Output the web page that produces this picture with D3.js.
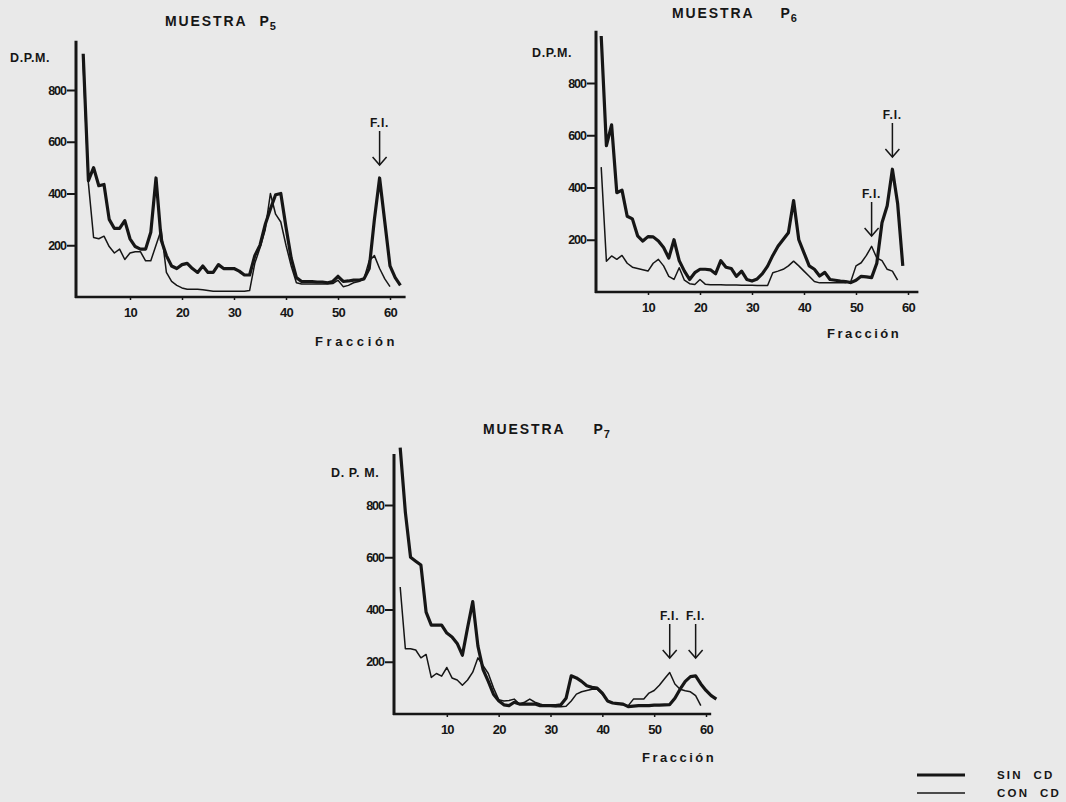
<!DOCTYPE html>
<html>
<head>
<meta charset="utf-8">
<script src="https://cdn.jsdelivr.net/npm/d3@7"></script>
<style>
  body { margin: 0; background: #e9e9e9; }
  svg { display: block; }
  text { font-family: "Liberation Sans", Arial, sans-serif; font-weight: bold; fill: #161616; }
</style>
</head>
<body>
<svg id="chart" width="1066" height="802"></svg>
<script>
// D.P.M. per fraction (fraction = index + 1)
const p5Sin = [940, 450, 500, 430, 435, 300, 265, 265, 295, 225, 195, 185, 185, 250, 460, 220, 160, 120, 110, 125,
  130, 110, 95, 120, 95, 95, 125, 110, 110, 110, 100, 85, 85, 160, 200, 280, 340, 395, 400, 270,
  150, 75, 60, 60, 60, 58, 58, 55, 60, 80, 60, 62, 65, 65, 70, 110, 300, 460, 290, 120, 75, 45];
const p5Con = [900, 440, 230, 225, 235, 195, 170, 185, 145, 170, 175, 175, 140, 140, 200, 260, 95, 60, 45, 35,
  30, 30, 30, 28, 25, 22, 22, 22, 22, 22, 22, 22, 25, 130, 190, 260, 400, 320, 290, 200,
  120, 55, 50, 50, 50, 50, 50, 50, 52, 65, 40, 45, 55, 60, 70, 140, 160, 110, 70, 40];

const p6Sin = [980, 560, 640, 380, 390, 290, 280, 215, 195, 212, 211, 195, 170, 130, 200, 120, 80, 48, 74, 87,
  87, 85, 70, 120, 95, 90, 60, 80, 48, 42, 50, 70, 99, 140, 175, 201, 227, 350, 200, 150,
  100, 87, 61, 75, 48, 45, 42, 40, 36, 45, 60, 58, 55, 110, 265, 330, 470, 340, 100];
const p6Con = [478, 118, 138, 125, 140, 110, 95, 90, 85, 80, 110, 125, 100, 60, 48, 93, 45, 32, 29, 48,
  30, 28, 28, 28, 27, 27, 27, 26, 26, 26, 25, 25, 25, 74, 80, 87, 100, 118, 100, 80,
  60, 40, 35, 35, 35, 35, 35, 35, 40, 100, 112, 140, 175, 130, 120, 87, 80, 45];

const p7Sin = [1020, 772, 600, 585, 570, 390, 340, 340, 340, 310, 295, 270, 225, 330, 430, 260, 170, 125, 76, 51,
  35, 32, 45, 38, 38, 38, 38, 32, 32, 32, 32, 35, 60, 146, 138, 125, 108, 102, 99, 80,
  50, 42, 40, 38, 28, 30, 32, 32, 32, 34, 34, 35, 36, 60, 95, 125, 143, 146, 115, 90, 70, 57];
const p7Con = [486, 250, 250, 245, 215, 228, 140, 155, 145, 178, 138, 130, 110, 130, 160, 215, 185, 155, 100, 55,
  50, 52, 57, 38, 45, 57, 45, 38, 32, 30, 28, 28, 30, 50, 76, 85, 90, 95, 95, 76,
  50, 42, 38, 35, 32, 57, 57, 57, 80, 90, 110, 135, 159, 115, 95, 89, 85, 70, 32];

const yTicks = [200, 400, 600, 800];
const xTicks = [10, 20, 30, 40, 50, 60];
const p5Fi = [58];
const p6Fi = [53, 57];
const p7Fi = [53, 58];

const svg = d3.select("#chart");
const ink = "#161616";

function toPoints(arr) {
  return arr.map((v, i) => ({ f: i + 1, v: v }));
}

function drawPanel(opt) {
  const g = svg.append("g");
  const x = d3.scaleLinear().domain([0, 60]).range(opt.xr);
  const y = d3.scaleLinear().domain([0, 800]).range(opt.yr);

  // axes
  const yAx = g.append("g")
    .attr("transform", "translate(" + opt.yAxisX + ",0)")
    .call(d3.axisLeft(y).tickValues(yTicks).tickSize(9).tickPadding(1).tickSizeOuter(0));
  yAx.select(".domain").remove();
  yAx.selectAll("line").attr("stroke", ink).attr("stroke-width", 2);
  yAx.selectAll("text").style("font-size", "12.5px").style("letter-spacing", "-1px").attr("fill", ink);
  g.append("line")
    .attr("x1", opt.yAxisX).attr("x2", opt.yAxisX)
    .attr("y1", y(0) + 1).attr("y2", y(opt.yTop))
    .attr("stroke", ink).attr("stroke-width", 3);

  const xAx = g.append("g")
    .attr("transform", "translate(0," + y(0) + ")")
    .call(d3.axisBottom(x).tickValues(xTicks).tickSize(3).tickPadding(8).tickSizeOuter(0));
  xAx.select(".domain").remove();
  xAx.selectAll("line").attr("stroke", ink).attr("stroke-width", 1.5);
  xAx.selectAll("text").style("font-size", "13px").style("letter-spacing", "-0.8px").attr("fill", ink);
  g.append("line")
    .attr("x1", opt.yAxisX - 1).attr("x2", x(opt.xEnd))
    .attr("y1", y(0)).attr("y2", y(0))
    .attr("stroke", ink).attr("stroke-width", 2.6);

  // series
  const line = d3.line().x(d => x(d.f)).y(d => y(d.v));
  g.append("path").datum(toPoints(opt.con))
    .attr("d", line).attr("fill", "none").attr("stroke", ink)
    .attr("stroke-width", 1.5).attr("stroke-linejoin", "round");
  g.append("path").datum(toPoints(opt.sin))
    .attr("d", line).attr("fill", "none").attr("stroke", ink)
    .attr("stroke-width", 3.2).attr("stroke-linejoin", "round");

  // title
  const t = g.append("text")
    .attr("x", opt.title[0]).attr("y", opt.title[1])
    .style("font-size", "14px").style("letter-spacing", "1.9px");
  t.append("tspan").text("MUESTRA");
  t.append("tspan").attr("dx", opt.titleGap).text("P");
  t.append("tspan").attr("dx", -1).attr("dy", 4).style("font-size", "11px").text(opt.sub);

  g.append("text")
    .attr("x", opt.dpm[0]).attr("y", opt.dpm[1])
    .style("font-size", "12.5px").style("letter-spacing", "0.6px")
    .text(opt.dpmText);

  g.append("text")
    .attr("x", opt.frac[0]).attr("y", opt.frac[1])
    .style("font-size", "13px").style("letter-spacing", opt.fracSpacing)
    .text("Fracción");

  // F.I. arrows
  opt.fi.forEach((f, i) => {
    const ax = x(f);
    const tip = opt.fiTip[i];
    const top = tip - 34;
    g.append("line").attr("x1", ax).attr("x2", ax).attr("y1", top).attr("y2", tip)
      .attr("stroke", ink).attr("stroke-width", 1.5);
    g.append("path")
      .attr("d", "M" + (ax - 7) + "," + (tip - 8) + "L" + ax + "," + tip + "L" + (ax + 7) + "," + (tip - 8))
      .attr("fill", "none").attr("stroke", ink).attr("stroke-width", 1.5);
    g.append("text").attr("x", ax).attr("y", top - 4)
      .attr("text-anchor", "middle")
      .style("font-size", "12px").style("letter-spacing", "0.8px")
      .text("F.I.");
  });
}

drawPanel({
  sin: p5Sin, con: p5Con, fi: p5Fi, fiTip: [165],
  xr: [78, 390], yr: [297, 90], yAxisX: 76, yTop: 990, xEnd: 63,
  title: [165, 26], titleGap: 12, sub: "5",
  dpm: [10, 62], dpmText: "D.P.M.", frac: [315, 346], fracSpacing: "3.6px"
});

drawPanel({
  sin: p6Sin, con: p6Con, fi: p6Fi, fiTip: [236, 157],
  xr: [596, 908], yr: [292, 83], yAxisX: 596, yTop: 1000, xEnd: 62,
  title: [672, 18], titleGap: 26, sub: "6",
  dpm: [532, 57], dpmText: "D.P.M.", frac: [827, 338], fracSpacing: "2.5px"
});

drawPanel({
  sin: p7Sin, con: p7Con, fi: p7Fi, fiTip: [658, 658],
  xr: [395, 706], yr: [714, 505], yAxisX: 394, yTop: 995, xEnd: 61,
  title: [483, 434], titleGap: 28, sub: "7",
  dpm: [331, 477], dpmText: "D. P. M.", frac: [642, 762], fracSpacing: "2.5px"
});

// legend
const legend = svg.append("g");
const legendItems = [["SIN  CD", 3.2, 775], ["CON  CD", 1.5, 793]];
legendItems.forEach(d => {
  legend.append("line").attr("x1", 917).attr("x2", 965).attr("y1", d[2]).attr("y2", d[2])
    .attr("stroke", ink).attr("stroke-width", d[1]);
  legend.append("text").attr("x", 997).attr("y", d[2] + 4)
    .style("font-size", "11.5px").style("letter-spacing", "2.2px")
    .style("white-space", "pre")
    .text(d[0]);
});
</script>
</body>
</html>
